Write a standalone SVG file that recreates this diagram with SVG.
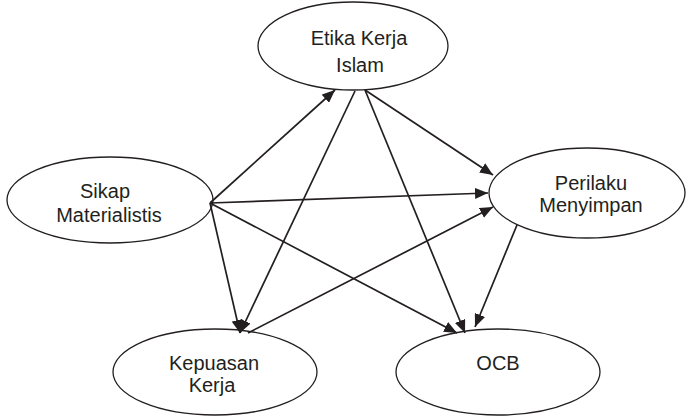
<svg xmlns="http://www.w3.org/2000/svg" width="686" height="416" viewBox="0 0 686 416">
<style>
.node ellipse{fill:#fff;stroke:#231f20;stroke-width:1.3}
.node text{font-family:"Liberation Sans",Arial,sans-serif;font-size:20px;fill:#231f20;text-anchor:middle}
#edges line{stroke:#231f20;stroke-width:1.7;marker-end:url(#ah)}
</style>
<defs>
<marker id="ah" markerUnits="userSpaceOnUse" markerWidth="14" markerHeight="11" refX="13" refY="5.5" orient="auto">
<path d="M0,0 L13,5.5 L0,11 z" fill="#231f20"/>
</marker>
</defs>
<rect width="686" height="416" fill="#fff"/>
<g id="n-etika" class="node">
<ellipse cx="353" cy="46" rx="95" ry="44"/>
<text x="359" y="45">Etika Kerja</text>
<text x="360" y="72">Islam</text>
</g>
<g id="n-sikap" class="node">
<ellipse cx="110" cy="200" rx="103" ry="43"/>
<text x="105" y="198">Sikap</text>
<text x="109" y="222">Materialistis</text>
</g>
<g id="n-perilaku" class="node">
<ellipse cx="587" cy="193" rx="98" ry="45"/>
<text x="591" y="190">Perilaku</text>
<text x="591" y="212">Menyimpan</text>
</g>
<g id="n-kepuasan" class="node">
<ellipse cx="215" cy="372" rx="102" ry="43"/>
<text x="214" y="370">Kepuasan</text>
<text x="212" y="392">Kerja</text>
</g>
<g id="n-ocb" class="node">
<ellipse cx="498" cy="372" rx="102" ry="43"/>
<text x="498" y="370">OCB</text>
</g>
<g id="edges">
<line x1="210" y1="203" x2="335" y2="90"/>
<line x1="210" y1="203" x2="488" y2="193"/>
<line x1="210" y1="203" x2="457" y2="333"/>
<line x1="210" y1="203" x2="240" y2="333"/>
<line x1="355" y1="91" x2="240" y2="333"/>
<line x1="365" y1="90" x2="493" y2="175"/>
<line x1="365" y1="90" x2="465" y2="333"/>
<line x1="248" y1="333" x2="493" y2="207"/>
<line x1="517" y1="225" x2="475" y2="327"/>
</g>
</svg>
